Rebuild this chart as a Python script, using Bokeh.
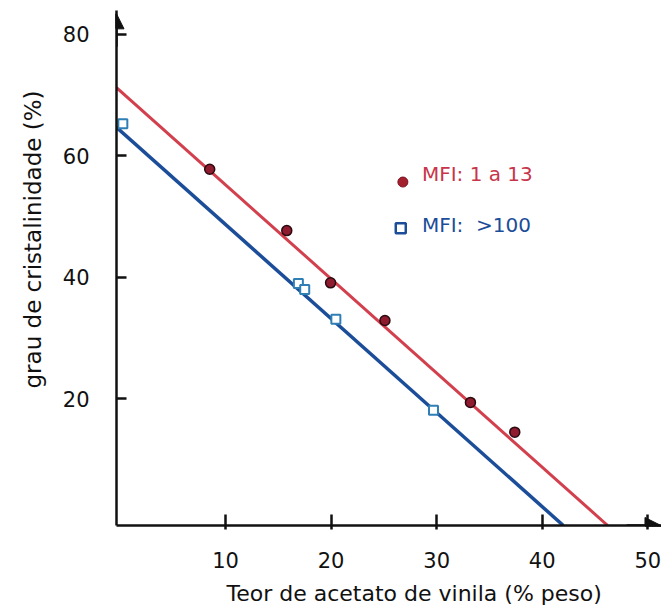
from bokeh.plotting import figure
from bokeh.models import (Range1d, FixedTicker, Arrow, NormalHead, Label, Title)
from bokeh.embed import file_html
from bokeh.resources import INLINE

# ---- data ----
mfi_low_x = [8.5, 15.8, 19.95, 25.1, 33.2, 37.4]
mfi_low_y = [57.8, 47.7, 39.1, 32.9, 19.4, 14.5]
mfi_high_x = [0.27, 16.9, 17.5, 20.45, 29.7]
mfi_high_y = [65.3, 39.0, 38.0, 33.1, 18.1]
# fitted straight lines (end points)
fit_low_x = [-0.33, 46.2]
fit_low_y = [71.25, -0.87]
fit_high_x = [-0.33, 42.0]
fit_high_y = [64.7, -0.87]
x_ticks = [10, 20, 30, 40, 50]
y_ticks = [20, 40, 60, 80]
legend_labels = ["MFI: 1 a 13", "MFI:\u00a0\u00a0>100"]
x_title = "Teor de acetato de vinila (% peso)"
y_title = "grau de cristalinidade (%)"

RED = "#d2404e"
BLUE = "#1b4d98"
FONT = "DejaVu Sans"

X0, X1 = -0.33, 51.3
Y0, Y1 = -0.87, 83.95

p = figure(width=661, height=613, output_backend="svg", toolbar_location=None,
           x_range=Range1d(X0, X1), y_range=Range1d(Y0, Y1),
           min_border_left=116, min_border_right=0, min_border_top=10,
           min_border_bottom=87)
p.outline_line_color = None
p.xgrid.visible = False
p.ygrid.visible = False
p.background_fill_color = "white"
p.border_fill_color = "white"

for ax in (p.xaxis[0], p.yaxis[0]):
    ax.axis_line_width = 2.5
    ax.axis_line_color = "#111111"
    ax.major_tick_line_width = 2.5
    ax.major_tick_line_color = "#111111"
    ax.minor_tick_line_color = None
    ax.major_label_text_font = FONT
    ax.major_label_text_font_size = "21px"
    ax.major_label_text_color = "#111111"

p.xaxis[0].ticker = FixedTicker(ticks=x_ticks)
p.xaxis[0].major_tick_in = 11
p.xaxis[0].major_tick_out = 4
p.xaxis[0].major_label_standoff = 22

p.yaxis[0].ticker = FixedTicker(ticks=y_ticks)
p.yaxis[0].major_tick_in = 10
p.yaxis[0].major_tick_out = 0
p.yaxis[0].major_label_standoff = 27

# axis titles as side titles, shifted to the reference position
p.add_layout(Title(text=x_title, text_font=FONT, text_font_size="22px",
                   text_font_style="normal", text_color="#111111",
                   align="left", offset=110, standoff=16), "below")
p.add_layout(Title(text=y_title, text_font=FONT, text_font_size="23px",
                   text_font_style="normal", text_color="#111111",
                   align="left", offset=137, standoff=28), "left")

# axis arrows
p.add_layout(Arrow(end=NormalHead(size=15, fill_color="#111111", line_color="#111111"),
                   x_start=X0, y_start=78, x_end=X0, y_end=83.4,
                   line_width=2.5, line_color="#111111"))
p.add_layout(Arrow(end=NormalHead(size=16, fill_color="#111111", line_color="#111111"),
                   x_start=48, y_start=Y0, x_end=X1 - 0.05, y_end=Y0,
                   line_width=2.5, line_color="#111111"))

# fit lines
p.line(fit_low_x, fit_low_y, line_color=RED, line_width=3)
p.line(fit_high_x, fit_high_y, line_color=BLUE, line_width=3.5)

# data points
p.scatter(mfi_low_x, mfi_low_y, marker="circle", size=10,
          fill_color="#8e1b2e", line_color="#2a0a10", line_width=1.5)
p.scatter(mfi_high_x, mfi_high_y, marker="square", size=9,
          fill_color="white", line_color="#2f7fb5", line_width=2)

# legend (manual)
p.scatter([26.8], [55.7], marker="circle", size=10,
          fill_color="#a3202f", line_color="#7a1420", line_width=1)
p.scatter([26.6], [48.1], marker="square", size=10,
          fill_color="white", line_color=BLUE, line_width=2.5)
p.add_layout(Label(x=28.6, y=57.0, text=legend_labels[0], text_font=FONT,
                   text_font_size="20px", text_color="#c8354a",
                   text_baseline="alphabetic", text_align="left"))
p.add_layout(Label(x=28.6, y=48.7, text=legend_labels[1], text_font=FONT,
                   text_font_size="20px", text_color=BLUE,
                   text_baseline="alphabetic", text_align="left"))

open("out.html", "w").write(file_html(p, INLINE))
